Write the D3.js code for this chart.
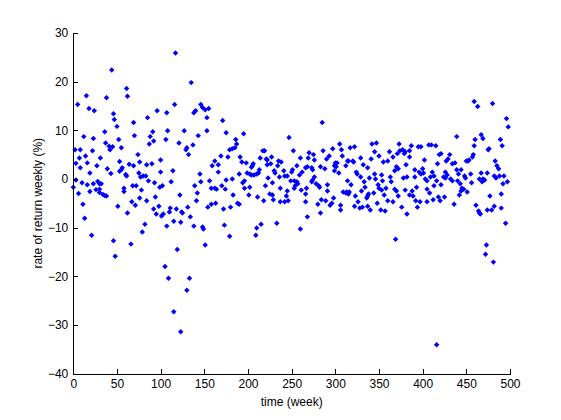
<!DOCTYPE html>
<html lang="en">
<head>
<meta charset="utf-8" />
<title>weekly rate of return</title>
<style>
  html, body { margin: 0; background: #fff; }
  svg { display: block; }
  text { font-family: "Liberation Sans", Arial, Helvetica, sans-serif; fill: #000; }
</style>
<script src="https://cdn.jsdelivr.net/npm/d3@7"></script>
</head>
<body>
<script>
// weekly returns, [week, rate %], grouped by stretch of the x axis
const seg1 = [[0,-1.7],[2,6.0],[3,-0.2],[3,3.2],[5,15.3],[6,-3.0],[7,4.3],[8,2.3],[8,6.0],[10,-0.8],[11,-5.2],[12,8.7],[13,-8.1],[14,4.7],[15,17.1],[16,3.3],[16,-1.2],[18,14.5],[19,1.2],[19,-2.6],[21,-11.6],[22,5.8],[23,8.3],[23,-1.0],[24,14.0],[26,-2.2],[27,2.7],[28,-0.5],[30,-1.0],[30,-2.1],[30,-2.8],[31,4.3],[32,-1.0],[34,-3.2],[36,9.7],[36,-3.4],[37,7.4],[38,16.7],[38,-3.5],[39,2.1],[41,6.7],[42,6.0],[43,1.1],[44,22.4],[45,6.6],[46,13.4],[46,-12.7],[47,12.2],[48,-15.9],[50,10.8],[51,-5.6],[52,8.1],[53,3.6],[53,1.6],[55,1.9],[55,6.4],[56,2.3],[58,-1.9],[58,-2.6],[60,0.9],[61,18.6],[61,0.6],[62,17.0],[62,-7.0]];
const seg2 = [[117,25.9],[116,15.3],[96,14.0],[107,13.6],[85,12.6],[69,11.6],[91,9.7],[108,9.9],[70,8.9],[88,8.7],[92,7.8],[106,8.1],[87,7.2],[121,7.4],[74,5.0],[76,3.5],[64,3.0],[69,2.7],[84,2.9],[90,3.1],[100,3.9],[75,1.2],[77,0.4],[80,0.6],[83,0.6],[100,1.4],[114,1.7],[86,-0.4],[93,-0.8],[112,-0.6],[68,-1.4],[72,-1.4],[99,-1.7],[102,-1.4],[78,-2.3],[122,-3.3],[94,-3.7],[76,-3.9],[67,-4.7],[84,-4.5],[71,-5.4],[98,-5.6],[92,-6.2],[111,-6.0],[118,-6.2],[110,-6.8],[124,-6.8],[95,-7.2],[103,-7.2],[101,-7.6],[115,-8.7],[123,-8.9],[107,-9.7],[82,-9.3],[79,-10.9],[66,-13.4],[119,-14.5],[105,-18.0],[109,-20.4],[115,-27.3],[123,-31.4]];
const seg3 = [[135,19.8],[146,15.3],[140,14.0],[138,13.6],[148,14.7],[151,14.2],[155,14.5],[153,12.6],[127,9.9],[153,9.9],[143,8.9],[137,7.0],[130,6.4],[129,6.0],[132,5.0],[162,3.7],[159,2.7],[166,2.9],[166,1.4],[145,1.0],[156,-0.4],[146,-0.6],[139,-1.4],[158,-1.9],[162,-1.9],[164,-2.1],[142,-2.9],[141,-4.5],[158,-5.2],[163,-5.0],[154,-5.8],[131,-5.8],[125,-7.0],[134,-7.8],[138,-9.7],[148,-9.9],[149,-10.3],[151,-13.6],[133,-20.4],[130,-22.9],
  [171,12.0],[175,9.5],[186,8.1],[187,7.2],[179,6.0],[182,6.2],[185,6.4],[169,4.7],[177,4.5],[175,-0.2],[182,0.0],[170,-1.4],[174,-2.1],[183,-3.3],[188,-5.0],[180,-5.8],[172,-6.2],[173,-9.5],[179,-11.8]];
const seg4 = [[195,9.3],[247,8.5],[191,4.5],[193,3.5],[198,3.3],[206,3.1],[205,2.7],[204,2.4],[217,5.8],[219,5.8],[214,4.3],[221,4.1],[222,3.9],[227,4.5],[226,3.1],[222,2.9],[235,3.7],[238,3.5],[234,2.7],[230,1.7],[231,1.2],[241,1.7],[251,1.9],[250,1.4],[213,1.9],[212,1.2],[199,1.2],[202,1.0],[204,0.8],[207,0.8],[210,1.0],[190,1.0],[236,0.4],[242,0.6],[245,0.6],[223,0.2],[249,-0.4],[196,-0.4],[194,-0.8],[228,-0.8],[220,-1.4],[196,-1.9],[202,-1.7],[237,-1.9],[245,-2.5],[201,-3.3],[225,-3.1],[228,-3.3],[244,-3.5],[211,-3.7],[229,-4.3],[218,-4.5],[237,-4.7],[242,-4.7],[246,-4.5],[190,-5.2],[233,-9.1],[215,-9.3],[210,-10.1],[209,-11.6]];
const seg5 = [[285,11.6],[252,5.8],[260,4.3],[270,5.4],[275,5.0],[269,4.3],[276,3.9],[286,5.8],[297,6.2],[305,7.2],[307,6.0],[293,4.7],[290,4.1],[308,4.7],[300,3.3],[302,3.3],[299,2.7],[301,2.5],[312,2.7],[314,3.7],[256,2.7],[266,2.3],[268,2.5],[273,2.3],[274,1.9],[283,2.5],[288,2.1],[262,1.4],[259,0.8],[299,1.7],[304,1.2],[276,0.4],[274,-0.2],[273,-0.6],[253,-0.4],[256,-0.6],[257,-1.0],[254,-1.4],[253,-1.9],[278,-1.0],[281,-1.4],[282,-1.7],[291,-1.2],[314,-0.4],[261,-2.3],[266,-3.1],[267,-1.9],[291,-2.5],[309,-2.7],[312,-2.9],[313,-2.7],[298,-3.9],[284,-4.3],[289,-4.5],[266,-4.7],[280,-5.2],[296,-5.0],[294,-5.4],[306,-5.4],[306,-6.4],[283,-7.0],[268,-7.8],[260,-10.3]];
const seg6 = [[317,6.4],[322,6.6],[342,7.2],[347,7.4],[373,7.2],[350,4.7],[345,5.6],[362,5.6],[374,5.8],[377,6.0],[371,5.2],[366,4.5],[329,4.3],[341,4.1],[315,3.7],[320,3.7],[321,3.5],[355,3.5],[360,3.7],[332,2.9],[337,2.3],[370,2.5],[372,2.1],[368,1.7],[324,1.4],[325,1.0],[329,0.4],[345,1.0],[353,0.8],[363,0.4],[339,0.2],[346,0.0],[333,-0.6],[354,-0.4],[364,-0.6],[318,-1.2],[349,-1.2],[350,-1.9],[334,-1.7],[358,-1.9],[368,-2.1],[330,-2.5],[344,-2.9],[353,-2.3],[316,-2.7],[315,-3.1],[370,-2.5],[372,-3.5],[338,-3.1],[337,-3.5],[336,-3.9],[356,-3.3],[323,-3.5],[326,-4.7],[348,-5.0],[360,-4.5],[366,-4.7],[322,-5.6],[328,-6.0],[331,-5.8],[337,-5.6],[340,-6.4],[352,-6.4],[357,-6.6],[376,-5.8],[369,-12.4]];
const seg7 = [[439,8.7],[387,6.8],[395,6.6],[398,6.6],[407,7.0],[410,7.0],[415,6.8],[380,5.6],[379,5.2],[385,5.8],[421,5.2],[419,5.0],[431,5.0],[429,4.1],[427,3.7],[385,4.5],[402,3.9],[381,2.9],[417,3.1],[434,3.1],[437,3.3],[391,1.9],[400,2.1],[396,1.4],[398,1.0],[401,1.2],[411,1.4],[439,1.9],[426,1.4],[428,0.8],[424,0.4],[426,0.2],[378,0.2],[382,0.4],[391,0.4],[409,0.4],[413,0.6],[403,0.0],[405,-0.4],[432,0.0],[434,-0.4],[440,-0.4],[416,-0.4],[413,-1.4],[421,-1.2],[380,-2.3],[388,-2.5],[405,-2.1],[408,-2.9],[393,-1.7],[385,-3.3],[389,-3.5],[418,-3.7],[425,-3.7],[392,-4.5],[397,-4.7],[405,-4.7],[412,-4.3],[420,-4.5],[436,-5.2],[394,-5.8],[382,-7.2],[416,-34.1]];
const seg8 = [[459,15.9],[463,14.9],[480,15.5],[496,12.4],[498,10.7],[467,9.1],[469,8.3],[460,8.1],[459,6.8],[489,8.1],[491,6.8],[475,6.0],[476,6.2],[458,5.0],[457,4.5],[450,3.7],[452,3.7],[453,3.9],[483,3.7],[485,2.7],[487,2.1],[444,1.9],[441,1.0],[455,1.0],[467,1.2],[474,1.2],[448,0.6],[449,0.2],[482,0.6],[484,0.2],[488,0.6],[493,0.6],[465,0.0],[469,0.0],[468,-0.6],[471,-0.2],[497,-0.6],[492,-1.0],[443,-1.0],[456,-0.8],[445,-1.9],[447,-2.1],[444,-2.5],[451,-2.7],[442,-3.3],[490,-3.1],[477,-3.5],[461,-5.4],[482,-5.6],[490,-6.0],[464,-6.6],[465,-7.0],[466,-7.2],[474,-6.4],[479,-6.4],[495,-9.1],[473,-13.6],[472,-15.5],[481,-17.1]];

const xTicks = d3.range(0, 501, 50);
const yTicks = d3.range(-40, 31, 10);

const W = 561, H = 420;
const margin = { top: 33, right: 51, bottom: 46.5, left: 73.3 };

const data = [...seg1, ...seg2, ...seg3, ...seg4, ...seg5, ...seg6, ...seg7, ...seg8];

const svg = d3.select("body").append("svg")
    .attr("width", W)
    .attr("height", H);

const x = d3.scaleLinear().domain([0, 500]).range([margin.left, W - margin.right]);
const y = d3.scaleLinear().domain([-40, 30]).range([H - margin.bottom, margin.top]);

// points first, axes drawn over them
const marker = d3.symbol().type(d3.symbolDiamond2).size(19);
svg.append("g")
  .selectAll("path")
  .data(data)
  .join("path")
    .attr("d", marker)
    .attr("transform", d => `translate(${x(d[0])},${y(d[1])})`)
    .attr("fill", "#0000ff");

// matlab style: ticks point inward, no box
const xAxis = svg.append("g")
    .attr("transform", `translate(0,${y(-40)})`)
    .call(d3.axisBottom(x).tickValues(xTicks).tickSizeInner(-5).tickSizeOuter(0).tickPadding(6));
const yAxis = svg.append("g")
    .attr("transform", `translate(${x(0)},0)`)
    .call(d3.axisLeft(y).tickValues(yTicks).tickSizeInner(-5).tickSizeOuter(0).tickPadding(5));

[xAxis, yAxis].forEach(g => {
  g.attr("font-size", 12).attr("font-family", null);
  g.selectAll("path, line").attr("stroke", "#000").attr("shape-rendering", "crispEdges");
});

svg.append("text")
    .attr("x", (x(0) + x(500)) / 2)
    .attr("y", 406)
    .attr("text-anchor", "middle")
    .attr("font-size", 12)
    .text("time (week)");

svg.append("text")
    .attr("transform", `translate(42,${(y(-40) + y(30)) / 2}) rotate(-90)`)
    .attr("text-anchor", "middle")
    .attr("font-size", 12)
    .text("rate of return weekly (%)");
</script>
</body>
</html>
